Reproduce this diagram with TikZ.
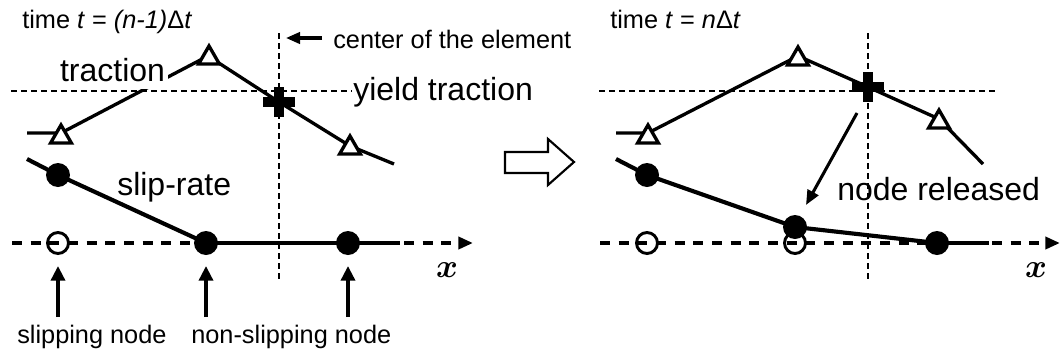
\documentclass[tikz,border=0pt]{standalone}
\usepackage{fontspec}
\setmainfont{Liberation Sans}
\usetikzlibrary{arrows.meta,shapes.geometric}
\begin{document}
\begin{tikzpicture}[x=0.75pt,y=-0.75pt,
  guide/.style={line width=0.9pt, dash pattern=on 4.5pt off 3pt},
  axisline/.style={line width=3pt, dash pattern=on 7.5pt off 6.5pt, -{Triangle[length=11pt,width=9pt]}},
  tracline/.style={line width=2.5pt},
  slipline/.style={line width=3.1pt},
  flatline/.style={line width=3.4pt},
  trimark/.style={regular polygon, regular polygon sides=3, draw, fill=white, line width=2.5pt, minimum size=18pt, inner sep=0pt, outer sep=0pt},
  fillednode/.style={circle, fill=black, minimum size=18pt, inner sep=0pt},
  opennode/.style={circle, draw, line width=2.2pt, minimum size=15.75pt, inner sep=0pt},
  vbar/.style={rectangle, fill=black, minimum width=7.5pt, minimum height=22.5pt, inner sep=0pt},
  hbar/.style={rectangle, fill=black, minimum width=24pt, minimum height=7.5pt, inner sep=0pt},
  uparrow/.style={line width=2.6pt, -{Triangle[length=11pt,width=10.5pt]}},
  bigtext/.style={font=\fontsize{24}{28}\selectfont, anchor=base west, inner sep=0pt},
  smalltext/.style={font=\fontsize{19}{23}\selectfont, anchor=base west, inner sep=0pt},
  xlabel/.style={font=\fontsize{34}{34}\selectfont\boldmath, inner sep=0pt},
]
\useasboundingbox (0,0) rectangle (1061,354);
\fill[white] (0,0) rectangle (1061,354);

% ---------- coordinates: left panel ----------
\coordinate (gvL1) at (279,33);  \coordinate (gvL2) at (279,280);
\coordinate (ghL1) at (11,91);   \coordinate (ghL2) at (352,91);
\coordinate (axL1) at (12,243);  \coordinate (axL2) at (473,243);
\coordinate (tL0) at (27,133);   \coordinate (tL1) at (61,133);
\coordinate (tL2) at (208,56);   \coordinate (cL) at (279,102);
\coordinate (tL3) at (350,146);  \coordinate (tL4) at (394,164);
\coordinate (sL0) at (27,159);   \coordinate (nL1) at (58,175);
\coordinate (nL2) at (206,243);  \coordinate (nL3) at (348,243);
\coordinate (sL4) at (400,243);
\coordinate (caT) at (322,38);   \coordinate (caH) at (286,38);
\coordinate (uL1) at (58,317);   \coordinate (uL1h) at (58,266);
\coordinate (uL2) at (206,317);  \coordinate (uL2h) at (206,266);
\coordinate (uL3) at (348,317);  \coordinate (uL3h) at (348,266);

% ---------- coordinates: right panel ----------
\coordinate (gvR1) at (868,33);  \coordinate (gvR2) at (868,280);
\coordinate (ghR1) at (599,91);  \coordinate (ghR2) at (995,91);
\coordinate (axR1) at (600,243); \coordinate (axR2) at (1060,243);
\coordinate (tR0) at (616,133);  \coordinate (tR1) at (648,133);
\coordinate (tR2) at (798,56);   \coordinate (cR) at (868,87);
\coordinate (tR3) at (939,119);  \coordinate (tR4) at (983,164);
\coordinate (sR0) at (616,159);  \coordinate (nR1) at (647,175);
\coordinate (nR2) at (795,227);  \coordinate (nR3) at (937,243);
\coordinate (sR4) at (989,243);
\coordinate (raT) at (857,113);  \coordinate (raH) at (806,205);

% ---------- guide lines ----------
\draw[guide] (gvL1) -- (gvL2);
\draw[guide] (ghL1) -- (ghL2);
\draw[guide] (gvR1) -- (gvR2);
\draw[guide] (ghR1) -- (ghR2);

% ---------- axes ----------
\draw[axisline] (axL1) -- (axL2);
\draw[axisline] (axR1) -- (axR2);

% ---------- left panel ----------
\draw[tracline] (tL0) -- (tL1) -- (tL2) -- (cL) -- (tL3) -- (tL4);
\node[bigtext, fill=white, inner xsep=2.25pt, text depth=6pt] (tracLbl) at (56.75,81) {traction};
\node[trimark] (triL1) at (61,137) {};
\node[trimark] (triL2) at (209,58) {};
\node[trimark] (triL3) at (350,148) {};
\node[vbar] (crossLv) at (cL) {};
\node[hbar] (crossLh) at (cL) {};

\node[opennode] (openL1) at (58,243) {};
\draw[slipline] (sL0) -- (nL1) -- (nL2);
\draw[flatline] (nL2) -- (nL3) -- (sL4);
\node[fillednode] (dotL1) at (nL1) {};
\node[fillednode] (dotL2) at (nL2) {};
\node[fillednode] (dotL3) at (nL3) {};

\draw[line width=2.3pt, -{Triangle[length=10.5pt,width=8.5pt]}] (caT) -- (caH);
\draw[uparrow] (uL1) -- (uL1h);
\draw[uparrow] (uL2) -- (uL2h);
\draw[uparrow] (uL3) -- (uL3h);

\node[smalltext] (timeL) at (22,28) {time \textit{t} = \textit{(n-1)}Δ\textit{t}};
\node[smalltext] (centerLbl) at (333,48) {center of the element};
\node[bigtext] (yieldLbl) at (353,100) {yield traction};
\node[bigtext] (slipLbl) at (117,195) {slip-rate};
\node[smalltext] (slipNodeLbl) at (17,343) {slipping node};
\node[smalltext] (nonSlipLbl) at (191,343) {non-slipping node};
\node[xlabel] (xL) at (447,270) {$x$};

% ---------- transition arrow ----------
\draw[line width=1.6pt, line join=miter] (505,152) -- (548,152) -- (548,139) -- (574,162) -- (548,185) -- (548,173) -- (505,173) -- cycle;

% ---------- right panel ----------
\draw[tracline] (tR0) -- (tR1) -- (tR2) -- (cR) -- (tR3) -- (tR4);
\node[trimark] (triR1) at (648,137) {};
\node[trimark] (triR2) at (798,59) {};
\node[trimark] (triR3) at (939,122) {};
\node[vbar] (crossRv) at (cR) {};
\node[hbar] (crossRh) at (cR) {};

\node[opennode] (openR1) at (647,243) {};
\node[opennode] (openR2) at (795,243) {};
\draw[slipline] (sR0) -- (nR1) -- (nR2) -- (nR3);
\draw[flatline] (nR3) -- (sR4);
\node[fillednode] (dotR1) at (nR1) {};
\node[fillednode] (dotR2) at (nR2) {};
\node[fillednode] (dotR3) at (nR3) {};

\draw[line width=2.3pt, -{Triangle[length=11pt,width=9pt]}] (raT) -- (raH);

\node[smalltext] (timeR) at (610,28) {time \textit{t} = \textit{n}Δ\textit{t}};
\node[bigtext] (relLbl) at (837,200) {node released};
\node[xlabel] (xR) at (1036,270) {$x$};
\end{tikzpicture}
\end{document}
